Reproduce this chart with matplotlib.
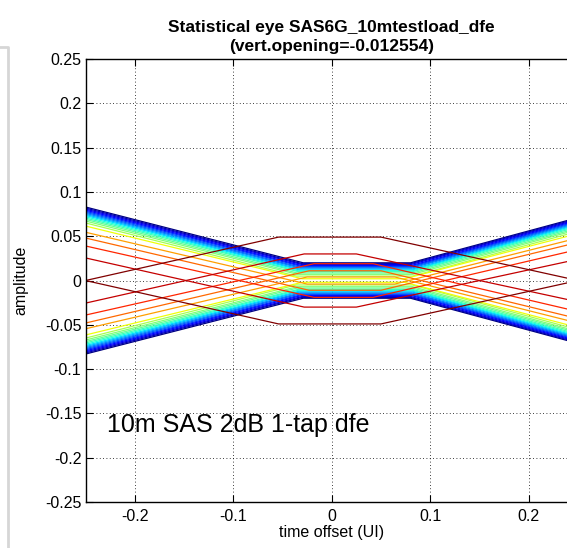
import numpy as np
import matplotlib
matplotlib.use('Agg')
import matplotlib.pyplot as plt
from matplotlib.lines import Line2D
from matplotlib.ticker import FormatStrFormatter

plt.rcParams['font.family'] = ['Liberation Sans', 'DejaVu Sans']
plt.rcParams['axes.unicode_minus'] = False

# statistical eye contours, outermost level (blue) first, innermost (dark red) last
# each level: lower trace goes (-0.25, -amp_left) -> (t_flat_start, amp_flat) -> (t_flat_end, amp_flat) -> (0.25, -amp_right)
# upper trace is its mirror image about amplitude 0
amp_left = [0.0830, 0.0818, 0.0806, 0.0794, 0.0782, 0.0770, 0.0758, 0.0746, 0.0734, 0.0720,
            0.0705, 0.0690, 0.0672, 0.0650, 0.0615, 0.0545, 0.0480, 0.0390, 0.0255, 0.0]
amp_flat = [-0.0200, -0.0190, -0.0180, -0.0170, -0.0160, -0.0150, -0.0140, -0.0130, -0.0120, -0.0110,
            -0.0100, -0.0085, -0.0070, -0.0050, -0.0020, 0.0040, 0.0110, 0.0190, 0.0300, 0.0490]
amp_right = [0.0710, 0.0700, 0.0690, 0.0680, 0.0670, 0.0660, 0.0650, 0.0640, 0.0630, 0.0618,
             0.0605, 0.0590, 0.0575, 0.0555, 0.0530, 0.0480, 0.0430, 0.0350, 0.0240, 0.0]
t_flat_start = [-0.029, -0.030, -0.030, -0.031, -0.031, -0.032, -0.032, -0.033, -0.033, -0.034,
                -0.034, -0.035, -0.035, -0.036, -0.030, -0.025, -0.023, -0.018, -0.028, -0.054]
t_flat_end = [0.080, 0.080, 0.080, 0.081, 0.081, 0.081, 0.081, 0.082, 0.082, 0.082,
              0.082, 0.082, 0.082, 0.082, 0.074, 0.064, 0.050, 0.042, 0.025, 0.050]

x_ticks = [-0.2, -0.1, 0, 0.1, 0.2]
y_ticks = [-0.25, -0.2, -0.15, -0.1, -0.05, 0, 0.05, 0.1, 0.15, 0.2, 0.25]

title = 'Statistical eye SAS6G_10mtestload_dfe\n(vert.opening=-0.012554)'
note = '10m SAS 2dB 1-tap dfe'

fig = plt.figure(figsize=(5.67, 5.48), dpi=100)
ax = fig.add_axes([0.1508, 0.0839, 0.8686, 0.8084])

n = len(amp_left)
cpos = np.r_[np.linspace(0.0, 0.55, n - 6), [0.64, 0.74, 0.80, 0.87, 0.94, 1.0]]
colors = plt.cm.jet(cpos)

for k in range(n):
    t = [-0.25, t_flat_start[k], t_flat_end[k], 0.25]
    v = np.array([-amp_left[k], amp_flat[k], amp_flat[k], -amp_right[k]])
    ax.plot(t, v, color=colors[k], lw=0.9, solid_joinstyle='round')
    ax.plot(t, -v, color=colors[k], lw=0.9, solid_joinstyle='round')

ax.set_xlim(-0.25, 0.25)
ax.set_ylim(-0.25, 0.25)
ax.set_xticks(x_ticks)
ax.set_yticks(y_ticks)
ax.xaxis.set_major_formatter(FormatStrFormatter('%g'))
ax.yaxis.set_major_formatter(FormatStrFormatter('%g'))
ax.tick_params(direction='in', length=5, width=0.8, top=True, right=True, labelsize=11.5)
ax.tick_params(axis='y', pad=3)
ax.tick_params(axis='x', pad=5)
ax.grid(True, color='black', linestyle=(0, (1, 3)), linewidth=0.6)
for s in ax.spines.values():
    s.set_linewidth(1.0)

ax.set_xlabel('time offset (UI)', fontsize=11.5, labelpad=1)
ax.set_ylabel('amplitude', fontsize=11.5, labelpad=12)
ax.set_title(title, fontsize=12.5, fontweight='bold', pad=6, linespacing=1.3)
ax.text(-0.228, -0.163, note, fontsize=18, va='center', ha='left')

# grey border of the surrounding window panel
fig.add_artist(Line2D([0, 8 / 567, 8 / 567], [1 - 47 / 548, 1 - 47 / 548, 0],
                      color='#d6d6d6', lw=2, transform=fig.transFigure))

fig.savefig('out.png', dpi=100)
